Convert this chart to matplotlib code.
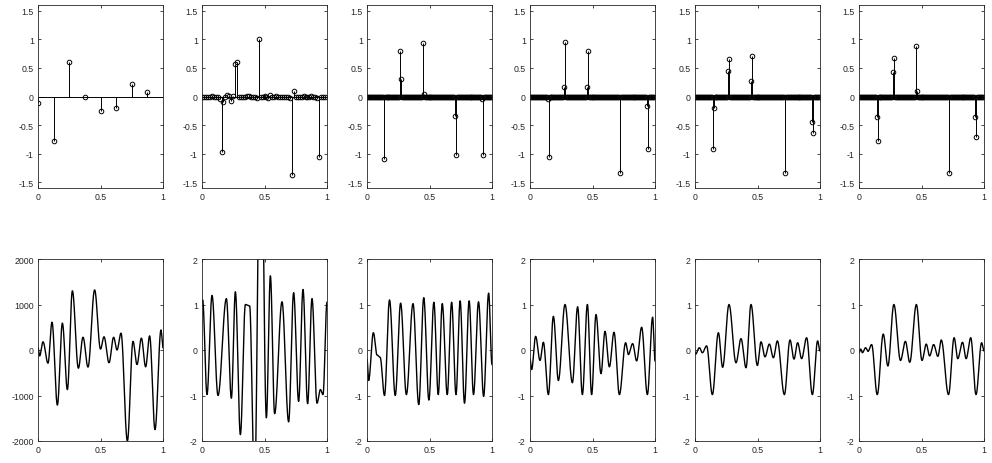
import matplotlib
matplotlib.use("Agg")
import matplotlib.pyplot as plt
import numpy as np

plt.rcParams['font.family'] = ['Liberation Sans', 'DejaVu Sans']
plt.rcParams['axes.unicode_minus'] = False

# ---- top row: stem coefficients ----
coef1_y = [-0.11, -0.78, 0.60, 0.0, -0.25, -0.20, 0.21, 0.07]

coef2_y = [0.0, 0.0, -0.01, 0.0, 0.0, 0.01, 0.0, -0.01, 0.0, -0.05,
           -0.97, -0.10, 0.0, 0.03, 0.01, -0.08, 0.01, 0.57, 0.60, 0.0,
           0.0, -0.01, 0.0, 0.01, 0.01, 0.0, -0.01, 0.0, -0.02, 1.00,
           0.0, 0.0, 0.01, 0.0, -0.02, 0.02, 0.0, 0.0, 0.01, 0.0,
           0.0, 0.0, 0.0, -0.01, 0.0, -0.03, -1.38, 0.09, -0.01, 0.0,
           0.0, 0.0, 0.01, 0.0, 0.0, 0.0, 0.01, 0.0, 0.0, -0.02,
           -1.05, 0.0, 0.0, 0.0]

# sparse panels on a 128 point grid: index -> value
n_fine = 128
coef3_idx = [17, 34, 35, 57, 58, 90, 91, 118, 119]
coef3_val = [-1.10, 0.80, 0.31, 0.93, 0.04, -0.34, -1.02, -0.04, -1.03]
coef4_idx = [18, 19, 35, 36, 58, 59, 92, 120, 121]
coef4_val = [-0.04, -1.06, 0.16, 0.95, 0.17, 0.80, -1.33, -0.16, -0.92]
coef5_idx = [18, 19, 34, 35, 57, 58, 92, 120, 121]
coef5_val = [-0.92, -0.20, 0.45, 0.66, 0.27, 0.71, -1.33, -0.44, -0.63]
coef6_idx = [18, 19, 35, 36, 58, 59, 92, 119, 120]
coef6_val = [-0.35, -0.77, 0.43, 0.68, 0.88, 0.10, -1.33, -0.36, -0.71]

# ---- bottom row: signal extrema (x, y) ----
sig1_x = [0.0, 0.013, 0.04, 0.08, 0.112, 0.155, 0.195, 0.235, 0.275, 0.323,
          0.36, 0.40, 0.453, 0.50, 0.528, 0.568, 0.605, 0.632, 0.664, 0.715,
          0.76, 0.792, 0.827, 0.861, 0.893, 0.936, 0.984, 1.0]
sig1_y = [50, -130, 180, -290, 610, -1210, 590, -870, 1300, -400,
          280, -375, 1320, 20, 290, -280, 280, 0, 370, -2000,
          190, -320, 260, -370, 310, -1750, 440, 50]

sig2_x = [0.0, 0.005, 0.04, 0.08, 0.128, 0.195, 0.235, 0.267, 0.307, 0.347,
          0.381, 0.42, 0.47, 0.515, 0.547, 0.581, 0.64, 0.693, 0.733, 0.773,
          0.808, 0.845, 0.88, 0.92, 0.947, 0.968, 1.0]
sig2_y = [1.05, 1.1, -0.98, 1.2, -1.0, 1.13, -1.06, 1.28, -1.86, 1.0,
          0.97, -3.0, 6.0, -1.49, 1.63, -1.4, 1.06, -1.58, 1.26, -1.13,
          1.33, -1.18, 1.13, -1.17, -0.87, -0.98, 1.05]

sig3_x = [0.0, 0.013, 0.051, 0.08, 0.105, 0.14, 0.18, 0.226, 0.269, 0.315,
          0.368, 0.414, 0.454, 0.495, 0.535, 0.57, 0.602, 0.642, 0.677, 0.712,
          0.745, 0.78, 0.817, 0.852, 0.892, 0.933, 0.973, 1.0]
sig3_y = [-0.2, -0.67, 0.38, -0.11, -0.16, -1.0, 1.1, -1.0, 1.03, -0.98,
          1.02, -1.2, 1.15, -1.1, 1.05, -0.98, 1.02, -0.98, 1.05, -0.98,
          1.08, -1.17, 1.08, -0.98, 1.06, -1.02, 1.25, -0.32]

sig4_x = [0.0, 0.013, 0.045, 0.08, 0.107, 0.147, 0.187, 0.227, 0.28, 0.339,
          0.381, 0.419, 0.459, 0.493, 0.528, 0.568, 0.60, 0.635, 0.672, 0.715,
          0.765, 0.787, 0.821, 0.853, 0.893, 0.939, 0.981, 1.0]
sig4_y = [-0.2, -0.43, 0.3, -0.23, 0.17, -0.98, 0.74, -0.67, 1.0, -0.72,
          0.95, -0.98, 1.0, -0.98, 0.78, -0.52, 0.41, -0.37, 0.39, -0.98,
          0.16, -0.1, 0.14, -0.24, 0.5, -0.98, 0.72, -0.24]

sig5_x = [0.0, 0.005, 0.035, 0.059, 0.093, 0.139, 0.187, 0.221, 0.272, 0.328,
          0.368, 0.408, 0.448, 0.499, 0.528, 0.56, 0.595, 0.627, 0.659, 0.715,
          0.76, 0.792, 0.821, 0.853, 0.893, 0.939, 0.981, 1.0]
sig5_y = [-0.06, -0.09, 0.05, -0.06, 0.09, -0.98, 0.38, -0.38, 1.0, -0.28,
          0.25, -0.39, 1.0, -0.34, 0.18, -0.15, 0.13, -0.17, 0.2, -0.98,
          0.22, -0.2, 0.16, -0.19, 0.27, -0.98, 0.2, -0.02]

sig6_x = [0.0, 0.013, 0.027, 0.053, 0.072, 0.101, 0.146, 0.194, 0.231, 0.279,
          0.332, 0.371, 0.406, 0.459, 0.504, 0.538, 0.565, 0.597, 0.631, 0.658,
          0.716, 0.761, 0.79, 0.828, 0.857, 0.894, 0.936, 0.981, 1.0]
sig6_y = [-0.06, 0.02, -0.06, 0.05, -0.03, 0.12, -0.98, 0.35, -0.35, 1.0,
          -0.23, 0.19, -0.27, 1.0, -0.23, 0.13, -0.13, 0.12, -0.14, 0.22,
          -0.98, 0.27, -0.19, 0.17, -0.19, 0.27, -0.98, 0.16, -0.02]

top_ticks = [-1.5, -1, -0.5, 0, 0.5, 1, 1.5]
top_labels = ['-1.5', '-1', '-0.5', '0', '0.5', '1', '1.5']
x_ticks = [0, 0.5, 1]
x_labels = ['0', '0.5', '1']


def sparse_to_dense(idx, val, n):
    y = np.zeros(n)
    y[idx] = val
    return y


def smooth_through(xs, ys, per_seg=40):
    # half-cosine between successive extrema, flat slope at each one
    xx, yy = [], []
    for i in range(len(xs) - 1):
        t = np.linspace(0, 1, per_seg, endpoint=False)
        w = (1 - np.cos(np.pi * t)) / 2
        xx.append(xs[i] + (xs[i + 1] - xs[i]) * t)
        yy.append(ys[i] + (ys[i + 1] - ys[i]) * w)
    xx.append([xs[-1]])
    yy.append([ys[-1]])
    return np.concatenate(xx), np.concatenate(yy)


def style(ax):
    ax.set_xlim(0, 1)
    ax.set_xticks(x_ticks)
    ax.set_xticklabels(x_labels)
    ax.tick_params(direction='in', length=2.5, width=0.6, top=True, right=True,
                   labelsize=6.3, colors='#262626', pad=3)
    for s in ax.spines.values():
        s.set_linewidth(0.6)
        s.set_color('#262626')


stems_y = [coef1_y, coef2_y,
           sparse_to_dense(coef3_idx, coef3_val, n_fine),
           sparse_to_dense(coef4_idx, coef4_val, n_fine),
           sparse_to_dense(coef5_idx, coef5_val, n_fine),
           sparse_to_dense(coef6_idx, coef6_val, n_fine)]
signals = [(sig1_x, sig1_y), (sig2_x, sig2_y), (sig3_x, sig3_y),
           (sig4_x, sig4_y), (sig5_x, sig5_y), (sig6_x, sig6_y)]

W, H = 992, 464
fig = plt.figure(figsize=(W / 100, H / 100), dpi=100)
lefts = [38, 202, 367, 530, 695, 859]
aw = 125

for i in range(6):
    # top: coefficients
    ax = fig.add_axes([lefts[i] / W, (H - 189) / H, aw / W, 183 / H])
    y = np.asarray(stems_y[i], dtype=float)
    x = np.arange(len(y)) / len(y)
    ax.vlines(x, 0, y, color='k', lw=0.7)
    ax.axhline(0, color='k', lw=0.7)
    ax.plot(x, y, 'o', ms=3.3, mfc='none', mec='k', mew=0.7)
    ax.set_ylim(-1.6, 1.6)
    ax.set_yticks(top_ticks)
    ax.set_yticklabels(top_labels)
    style(ax)

    # bottom: signal
    ax = fig.add_axes([lefts[i] / W, (H - 442) / H, aw / W, 182 / H])
    sx, sy = smooth_through(*signals[i])
    ax.plot(sx, sy, color='k', lw=1.0)
    if i == 0:
        ax.set_ylim(-2000, 2000)
        ax.set_yticks([-2000, -1000, 0, 1000, 2000])
        ax.set_yticklabels(['-2000', '-1000', '0', '1000', '2000'])
    else:
        ax.set_ylim(-2, 2)
        ax.set_yticks([-2, -1, 0, 1, 2])
        ax.set_yticklabels(['-2', '-1', '0', '1', '2'])
    style(ax)

fig.savefig('out.png', dpi=100)
